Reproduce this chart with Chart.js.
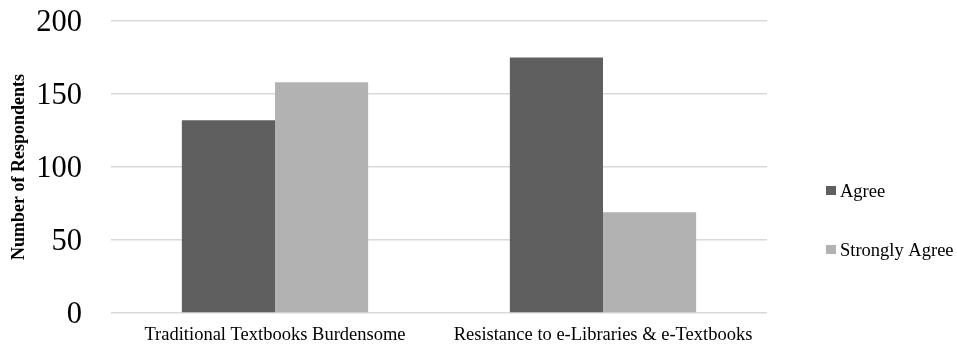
<!DOCTYPE html>
<html>
<head>
<meta charset="utf-8">
<script src="https://cdn.jsdelivr.net/npm/chart.js@4/dist/chart.umd.min.js"></script>
<style>
  html, body { margin: 0; padding: 0; background: #ffffff; }
  #wrap { width: 957px; height: 347px; position: relative; }
</style>
</head>
<body>
<div id="wrap"><canvas id="chart"></canvas></div>
<script>
// Survey responses per statement
const categories = ["Traditional Textbooks Burdensome", "Resistance to e-Libraries & e-Textbooks"];
const agreeValues = [132, 175];
const stronglyAgreeValues = [158, 69];
const seriesNames = ["Agree", "Strongly Agree"];
const yTicks = [0, 50, 100, 150, 200];

const serif = "'Liberation Serif', 'Times New Roman', serif";

// Vertical legend drawn to the right of the plot area
const sideLegend = {
  id: "sideLegend",
  afterDraw(chart) {
    const ctx = chart.ctx;
    const x = chart.chartArea.right + 59;
    const rows = [191, 250];
    ctx.save();
    ctx.font = "18.5px " + serif;
    ctx.textBaseline = "middle";
    ctx.textAlign = "left";
    chart.data.datasets.forEach((ds, i) => {
      ctx.fillStyle = ds.backgroundColor;
      ctx.fillRect(x, rows[i] - 5, 10, 9);
      ctx.fillStyle = "#000000";
      ctx.fillText(ds.label, x + 14, rows[i] + 1);
    });
    ctx.restore();
  }
};

new Chart(document.getElementById("chart"), {
  type: "bar",
  data: {
    labels: categories,
    datasets: [
      { label: seriesNames[0], data: agreeValues, backgroundColor: "#5f5f5f" },
      { label: seriesNames[1], data: stronglyAgreeValues, backgroundColor: "#b2b2b2" }
    ]
  },
  options: {
    responsive: true,
    maintainAspectRatio: false,
    animation: false,
    layout: { padding: { top: 21, right: 190, bottom: 0, left: 0 } },
    datasets: { bar: { barPercentage: 1, categoryPercentage: 0.568 } },
    plugins: {
      legend: { display: false },
      tooltip: { enabled: false }
    },
    scales: {
      x: {
        grid: { display: false },
        border: { display: false },
        ticks: {
          color: "#000000",
          font: { family: serif, size: 18.5 },
          padding: 3,
          maxRotation: 0
        },
        afterFit(s) {
          s.height = 34;
          s.paddingLeft = 0;
          s.paddingRight = 0;
        }
      },
      y: {
        min: 0,
        max: 200,
        afterBuildTicks(s) { s.ticks = yTicks.map(v => ({ value: v })); },
        grid: { color: "#d9d9d9", lineWidth: 1.5, drawTicks: false },
        border: { display: false },
        ticks: {
          color: "#000000",
          font: { family: serif, size: 30.5 },
          padding: 29,
          labelOffset: 2
        },
        title: {
          display: true,
          text: "Number of Respondents",
          color: "#000000",
          font: { family: serif, size: 18, weight: "bold" },
          padding: { top: 9, bottom: 0 }
        },
        afterFit(s) {
          s.width = 111;
          s.paddingTop = 0;
          s.paddingBottom = 0;
        }
      }
    }
  },
  plugins: [sideLegend]
});
</script>
</body>
</html>
